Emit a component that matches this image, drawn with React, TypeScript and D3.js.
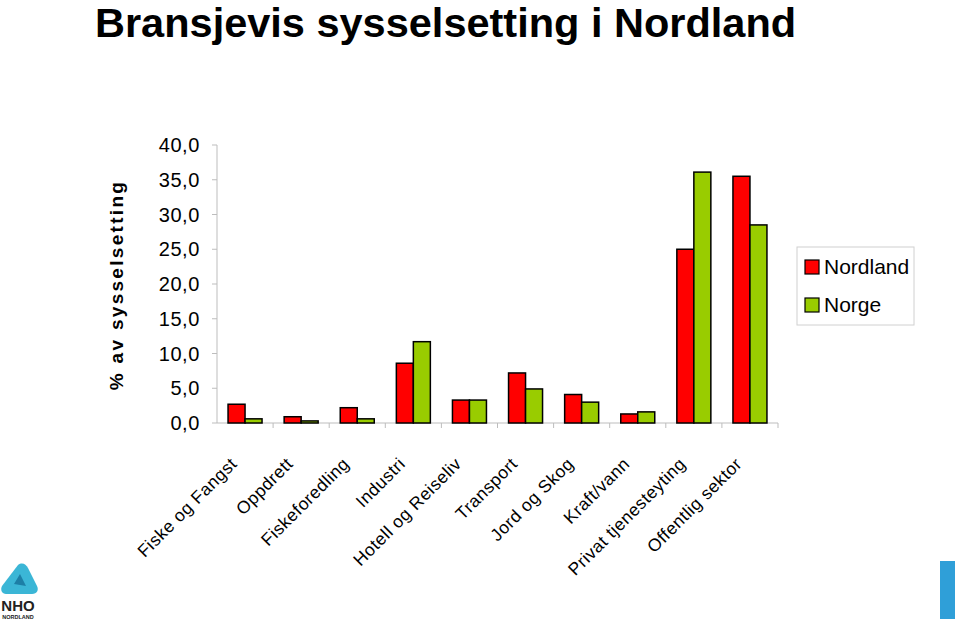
import React from "react";
import * as d3 from "d3";

const categories = [
  "Fiske og Fangst",
  "Oppdrett",
  "Fiskeforedling",
  "Industri",
  "Hotell og Reiseliv",
  "Transport",
  "Jord og Skog",
  "Kraft/vann",
  "Privat tjenesteyting",
  "Offentlig sektor",
];
const nordland = [2.7, 0.9, 2.2, 8.6, 3.3, 7.2, 4.1, 1.3, 25.0, 35.5];
const norge = [0.6, 0.3, 0.6, 11.7, 3.3, 4.9, 3.0, 1.6, 36.1, 28.5];
const seriesNames = ["Nordland", "Norge"];
const seriesColors = ["#ff0000", "#99cc00"];
const yTicks = [0, 5, 10, 15, 20, 25, 30, 35, 40];

const font = "'Liberation Sans', Arial, sans-serif";

export default function App() {
  const x0 = 217, x1 = 778, yTop = 145, yBot = 423;
  const x = d3.scaleBand().domain(categories).range([x0, x1]).paddingInner(0).paddingOuter(0);
  const y = d3.scaleLinear().domain([0, 40]).range([yBot, yTop]);
  const barW = 17;
  const fmt = (v: number) => d3.format(".1f")(v).replace(".", ",");
  const series = [nordland, norge];

  return (
    <svg width={960} height={624} style={{ position: "absolute", left: 0, top: 0, background: "#fff" }} fontFamily={font}>
      <text x={95} y={37} fontSize={41.5} fontWeight="bold" fill="#000">Bransjevis sysselsetting i Nordland</text>

      <text transform={`translate(123,285) rotate(-90)`} textAnchor="middle" fontSize={19} fontWeight="bold" letterSpacing={2.3} fill="#000">% av sysselsetting</text>

      {/* y axis */}
      <line x1={x0} x2={x0} y1={yTop} y2={yBot} stroke="#bdbdbd" strokeWidth={1} />
      {yTicks.map((t) => (
        <g key={t}>
          <line x1={x0 - 5} x2={x0} y1={y(t)} y2={y(t)} stroke="#bdbdbd" />
          <text x={200} y={y(t) + 7} textAnchor="end" fontSize={20} letterSpacing={0.6} fill="#000">{fmt(t)}</text>
        </g>
      ))}
      {/* x axis */}
      <line x1={x0} x2={x1} y1={yBot} y2={yBot} stroke="#bdbdbd" />
      {categories.map((c) => (
        <line key={c} x1={x(c)! + x.bandwidth()} x2={x(c)! + x.bandwidth()} y1={yBot} y2={yBot + 5} stroke="#bdbdbd" />
      ))}

      {/* bars */}
      {categories.map((c, i) => {
        const cx = x(c)! + x.bandwidth() / 2;
        return series.map((s, k) => (
          <rect key={c + k} x={cx - barW + k * barW} y={y(s[i])} width={barW} height={yBot - y(s[i])}
            fill={seriesColors[k]} stroke="#000" strokeWidth={1.5} />
        ));
      })}

      {/* x labels */}
      {categories.map((c) => {
        const cx = x(c)! + x.bandwidth() / 2;
        return (
          <text key={c} transform={`translate(${cx - 7},${465}) rotate(-45)`} textAnchor="end" fontSize={17.5} letterSpacing={0.5} fill="#000">{c}</text>
        );
      })}

      {/* legend */}
      <rect x={797} y={247} width={117} height={78} fill="#fff" stroke="#d0d0d0" />
      {seriesNames.map((n, k) => (
        <g key={n}>
          <rect x={805} y={260 + k * 38} width={14} height={14} fill={seriesColors[k]} stroke="#000" strokeWidth={1.2} />
          <text x={824} y={274 + k * 38} fontSize={21} fill="#000">{n}</text>
        </g>
      ))}

      {/* logo */}
      <g>
        <path d="M18,565 C22,562 26,564 28,568 L37,586 C39,590 37,594 32,594 L6,594 C2,594 0,590 2,586 Z" fill="#3bb6d6" />
        <path d="M14,584 L20,574 L26,586 Z" fill="#1d7fa6" />
        <text x={18} y={611} textAnchor="middle" fontSize={15} fontWeight="bold" fill="#222">NHO</text>
        <text x={18} y={619} textAnchor="middle" fontSize={5.5} fontWeight="bold" fill="#222">NORDLAND</text>
      </g>
      <rect x={940} y={561} width={15} height={58} fill="#2f9fd8" />
    </svg>
  );
}
